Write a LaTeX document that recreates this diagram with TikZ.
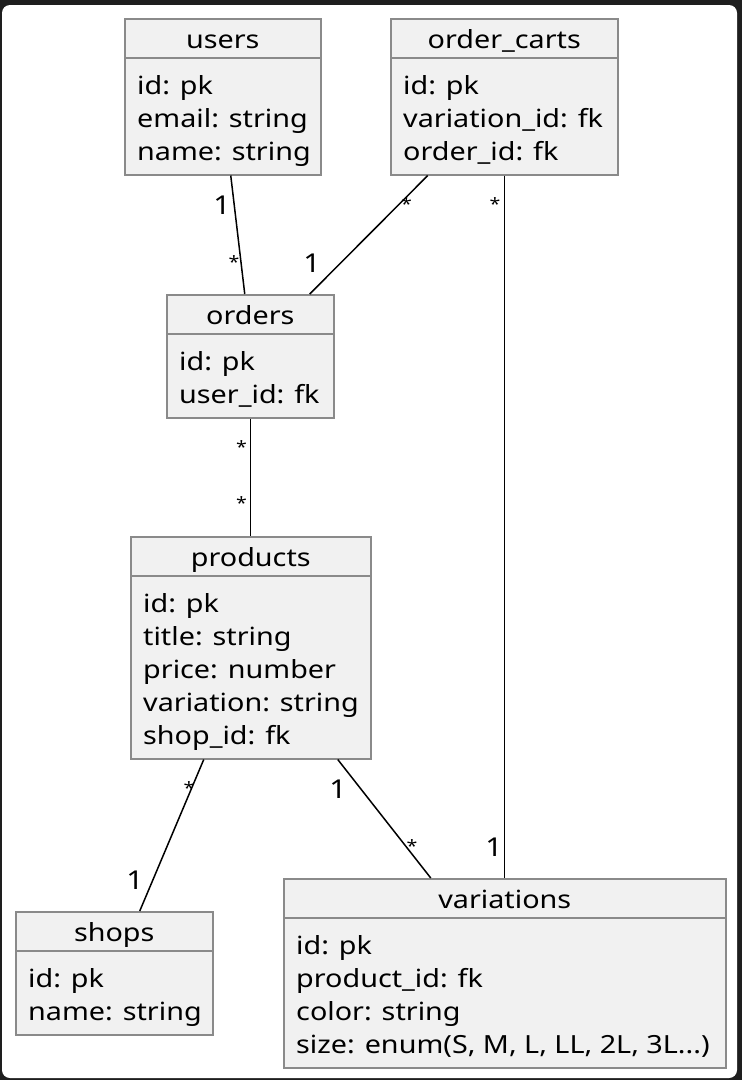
\documentclass[tikz,border=0pt]{standalone}
\usepackage{fontspec}
\setmainfont[FakeStretch=1.15]{Noto Sans}
\definecolor{bgdark}{HTML}{1E1E1E}
\definecolor{boxfill}{HTML}{F1F1F1}
\definecolor{boxline}{HTML}{8A8A8A}
\tikzset{
  ebox/.style={draw=boxline, fill=boxfill, line width=1.5pt, inner sep=0pt, anchor=north west},
  sepline/.style={draw=boxline, line width=1.5pt},
  etitle/.style={anchor=base, inner sep=0pt, font=\fontsize{25}{33}\selectfont},
  efield/.style={anchor=base west, inner sep=0pt, font=\fontsize{25}{33}\selectfont},
  rel/.style={draw=black, line width=1.5pt},
  mult/.style={inner sep=0pt, font=\fontsize{26}{28}\selectfont},
  star/.style={inner sep=0pt, font=\fontsize{17}{20}\selectfont},
}
% #1 name, #2 x, #3 y, #4 width, #5 number of fields, #6 title
\newcommand\entitybox[6]{%
  \node[ebox, minimum width=#4pt, minimum height={57pt+33pt*#5}] (#1) at (#2,#3) {};
  \node[etitle] (#1-title) at ([yshift=-30pt]#1.north) {#6};
  \draw[sepline] ([xshift=2pt,yshift=-40pt]#1.north west) -- ([xshift=-2pt,yshift=-40pt]#1.north east);
}
% #1 entity, #2 index (0..), #3 text
\newcommand\fieldrow[3]{%
  \node[efield] (#1-f#2) at ([xshift=13pt,yshift={-76pt-33pt*#2}]#1.north west) {#3};
}
\begin{document}
\begin{tikzpicture}[x=1pt,y=-1pt]
\useasboundingbox (0,0) rectangle (742,1080);
\fill[bgdark] (0,0) rectangle (742,1080);
\fill[white, rounded corners=8pt] (2,5) rectangle (737,1078);

% entities
\entitybox{users}{124}{18}{196}{3}{users}
\fieldrow{users}{0}{id: pk}
\fieldrow{users}{1}{email: string}
\fieldrow{users}{2}{name: string}

\entitybox{carts}{390}{18}{227}{3}{order\_carts}
\fieldrow{carts}{0}{id: pk}
\fieldrow{carts}{1}{variation\_id: fk}
\fieldrow{carts}{2}{order\_id: fk}

\entitybox{orders}{166}{294}{167}{2}{orders}
\fieldrow{orders}{0}{id: pk}
\fieldrow{orders}{1}{user\_id: fk}

\entitybox{products}{130}{536}{240}{5}{products}
\fieldrow{products}{0}{id: pk}
\fieldrow{products}{1}{title: string}
\fieldrow{products}{2}{price: number}
\fieldrow{products}{3}{variation: string}
\fieldrow{products}{4}{shop\_id: fk}

\entitybox{shops}{15}{911}{197}{2}{shops}
\fieldrow{shops}{0}{id: pk}
\fieldrow{shops}{1}{name: string}

\entitybox{variations}{283}{878}{442}{4}{variations}
\fieldrow{variations}{0}{id: pk}
\fieldrow{variations}{1}{product\_id: fk}
\fieldrow{variations}{2}{color: string}
\fieldrow{variations}{3}{size: enum(S, M, L, LL, 2L, 3L...)}

% relations
\draw[rel] ([xshift=8pt]users.south) -- ([xshift=-5.5pt]orders.north);
\draw[rel] ([xshift=-76.5pt]carts.south) -- ([xshift=59.5pt]orders.north);
\draw[rel] (carts.south) -- (carts.south |- variations.north);
\draw[rel] (orders.south) -- (orders.south |- products.north);
\draw[rel] ([xshift=-47pt]products.south) -- ([xshift=25.5pt]shops.north);
\draw[rel] ([xshift=87pt]products.south) -- ([xshift=-74pt]variations.north);

% multiplicities
\node[mult] (m1) at (222,205) {1};
\node[star] (m2) at (234,262) {*};
\node[star] (m3) at (406.5,204) {*};
\node[mult] (m4) at (312,263) {1};
\node[star] (m5) at (495,204) {*};
\node[mult] (m6) at (494,847) {1};
\node[star] (m7) at (241.5,447) {*};
\node[star] (m8) at (241.5,503) {*};
\node[star] (m9) at (189,788) {*};
\node[mult] (m10) at (135,880) {1};
\node[mult] (m11) at (338,789) {1};
\node[star] (m12) at (412,846) {*};
\end{tikzpicture}
\end{document}
